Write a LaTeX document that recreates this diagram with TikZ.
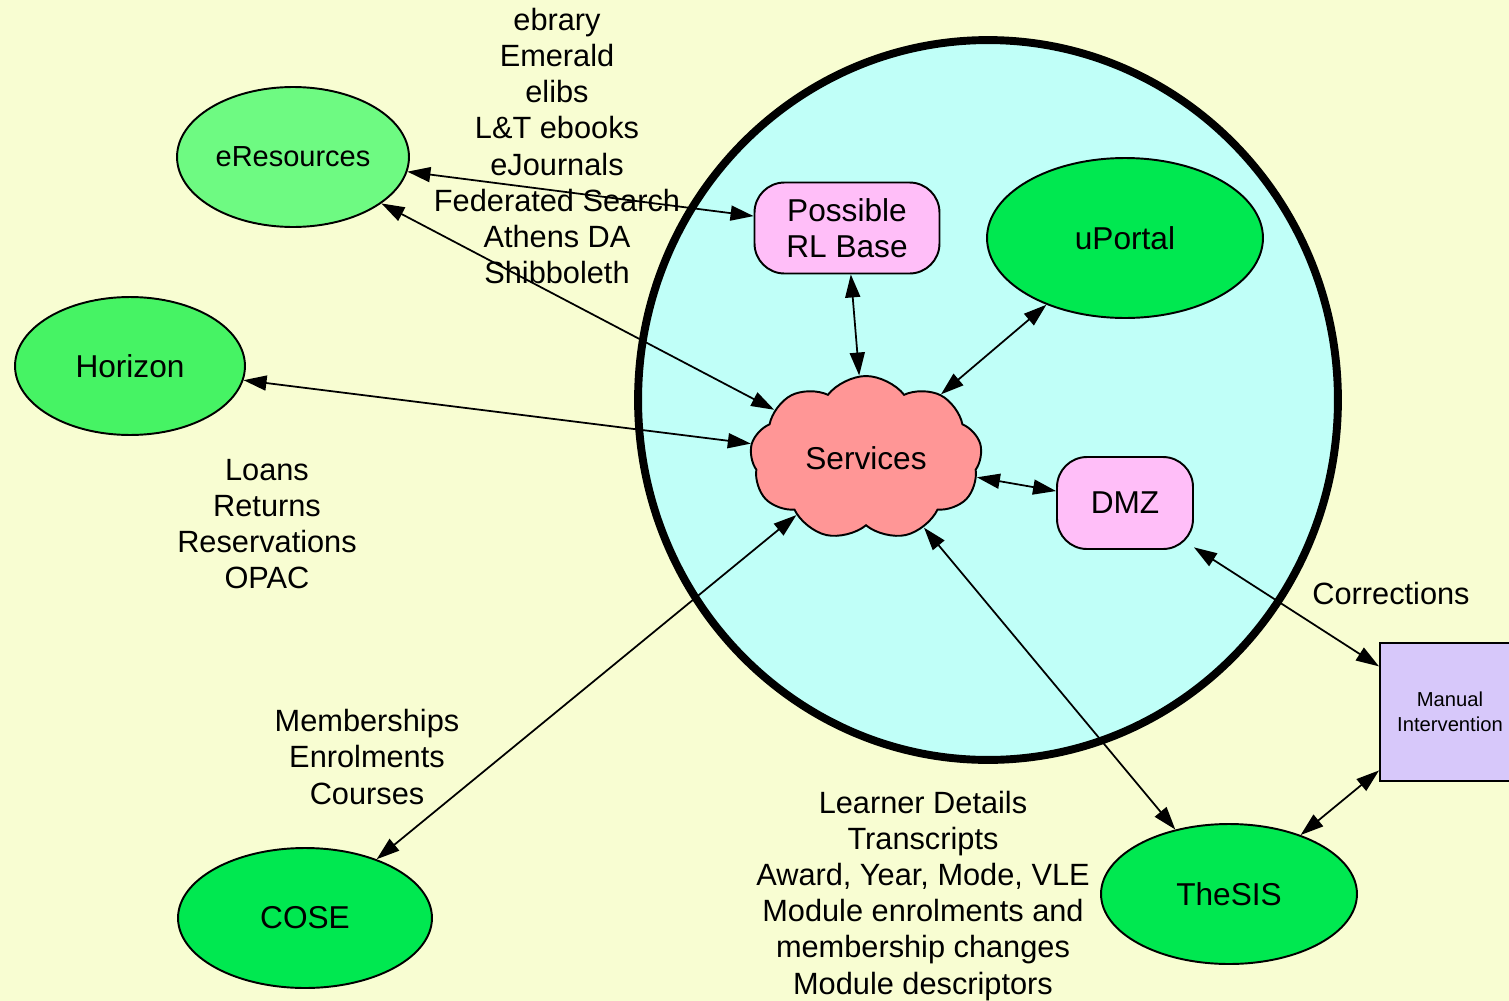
\documentclass[tikz,border=0pt]{standalone}
\usepackage{fontspec}
\setmainfont{Liberation Sans}
\usepackage{xcolor}
\usetikzlibrary{shapes,arrows,positioning,calc,arrows.meta}

\definecolor{paper}{RGB}{248,253,210}
\definecolor{sea}{RGB}{192,255,248}
\definecolor{lightgreen}{RGB}{110,250,130}
\definecolor{midgreen}{RGB}{70,243,100}
\definecolor{deepgreen}{RGB}{0,232,80}
\definecolor{salmon}{RGB}{255,150,150}
\definecolor{candy}{RGB}{255,190,248}
\definecolor{lilac}{RGB}{215,200,250}

\tikzset{
    ovalnode/.style={draw, ellipse, line width=1.1pt, inner sep=0pt},
    boxnode/.style={draw, fill=candy, rounded corners=0.6cm, line width=1.1pt, inner sep=0pt, align=center},
    conn/.style={{Triangle[length=4.6mm,width=3mm]}-{Triangle[length=4.6mm,width=3mm]}, line width=1pt},
    notes/.style={align=center, inner sep=0pt, font=\fontsize{17.5}{20.5}\selectfont}
}

\begin{document}
\begin{tikzpicture}[x=0.02cm, y=-0.02cm, font=\fontsize{18}{20.5}\selectfont]
    \fill[paper] (0,0) rectangle (1509,1001);
    \useasboundingbox (0,0) rectangle (1509,1001);

    % the big ring
    \node[draw, fill=sea, ellipse, line width=4.5pt, minimum width=14cm, minimum height=14.4cm] (ring) at (988,400) {};

    % systems
    \node[ovalnode, fill=lightgreen, minimum width=4.64cm, minimum height=2.8cm, font=\fontsize{16.5}{19}\selectfont] (eres) at (293,157) {eResources};
    \node[ovalnode, fill=midgreen, minimum width=4.6cm, minimum height=2.76cm] (horizon) at (130,366) {Horizon};
    \node[ovalnode, fill=deepgreen, minimum width=5.52cm, minimum height=3.2cm] (uportal) at (1125,238) {uPortal};
    \node[ovalnode, fill=deepgreen, minimum width=5.08cm, minimum height=2.8cm] (cose) at (305,918) {COSE};
    \node[ovalnode, fill=deepgreen, minimum width=5.12cm, minimum height=2.8cm] (thesis) at (1229,894) {TheSIS};

    \node[boxnode, minimum width=3.7cm, minimum height=1.82cm] (rlbase) at (847,228) {Possible\\RL Base};
    \node[boxnode, minimum width=2.72cm, minimum height=1.84cm] (dmz) at (1125,503) {DMZ};
    \node[draw, cloud, cloud puffs=9, cloud puff arc=105, cloud ignores aspect, fill=salmon, line width=1.1pt, inner sep=0pt,
          minimum width=4.64cm, minimum height=3.28cm] (services) at (866,458) {Services};
    \node[draw, fill=lilac, line width=1.1pt, minimum width=2.8cm, minimum height=2.76cm, align=center,
          font=\fontsize{11.5}{14.5}\selectfont] (manual) at (1450,712) {Manual\\Intervention};

    % links
    \draw[conn] (eres) -- (rlbase);
    \draw[conn] (eres) -- (services);
    \draw[conn] (horizon) -- (services);
    \draw[conn] (rlbase) -- (services);
    \draw[conn] (uportal) -- (services);
    \draw[conn] (services) -- (dmz);
    \draw[conn] (services) -- (thesis);
    \draw[conn] (services) -- (cose);
    \draw[conn] (dmz) -- (manual);
    \draw[conn] (thesis) -- (manual);

    % data carried
    \node[notes] (eresdata) at (557,146) {ebrary\\Emerald\\elibs\\L\&T ebooks\\eJournals\\Federated Search\\Athens DA\\Shibboleth};
    \node[notes] (horizondata) at (267,524) {Loans\\Returns\\Reservations\\OPAC};
    \node[notes] (cosedata) at (367,757) {Memberships\\Enrolments\\Courses};
    \node[notes] (thesisdata) at (923,896) {Learner Details\\Transcripts\\Award, Year, Mode, VLE\\Module enrolments and\\membership changes\\Module descriptors};
    \node[notes] (corr) at (1391,594) {Corrections};
\end{tikzpicture}
\end{document}
